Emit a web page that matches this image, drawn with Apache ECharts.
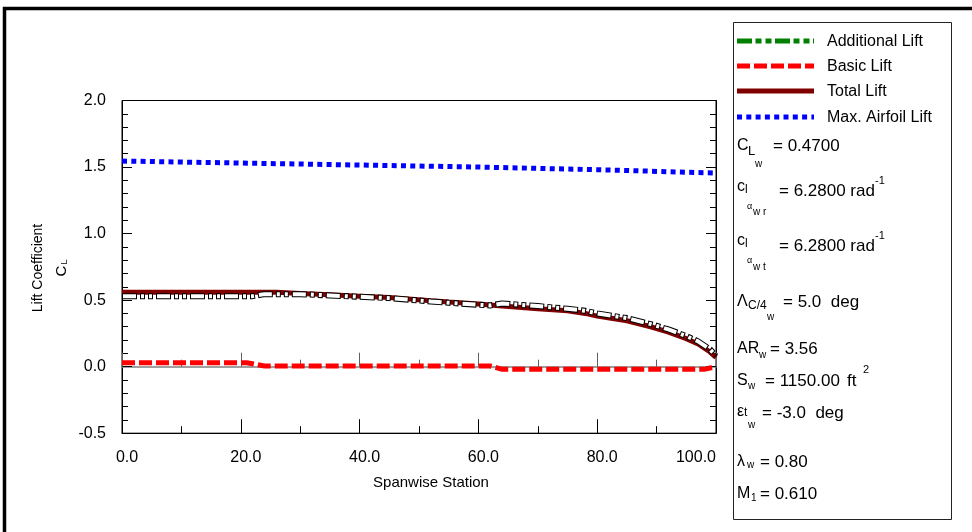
<!DOCTYPE html>
<html><head><meta charset="utf-8">
<script src="https://cdn.jsdelivr.net/npm/echarts@6/dist/echarts.min.js"></script>
<style>html,body{margin:0;padding:0;background:#fff;}#c{width:972px;height:532px;}</style>
</head><body><div id="c"></div>
<script>
// ---- data ----
var xTicks = [0, 20, 40, 60, 80, 100];
var yTicks = [-0.5, 0.0, 0.5, 1.0, 1.5, 2.0];
var spanMax = [0, 20, 40, 60, 80, 100];
var maxLift = [1.545, 1.53, 1.515, 1.50, 1.48, 1.455];
var spanTotal = [0, 10, 20, 26, 30, 35, 40, 45, 52, 55, 60, 64, 70, 75, 78, 80, 85, 89, 92, 95, 97, 98, 99, 100];
var totalLift = [0.56, 0.56, 0.56, 0.56, 0.55, 0.54, 0.53, 0.52, 0.495, 0.485, 0.47, 0.455, 0.435, 0.42, 0.40, 0.38, 0.345, 0.30, 0.26, 0.21, 0.17, 0.14, 0.11, 0.07];
var spanAdd = [0, 10, 20, 22, 24, 30, 35, 40, 45, 52, 55, 60, 62, 64, 70, 75, 78, 80, 85, 89, 92, 95, 97, 98, 99, 100];
var addLift = [0.53, 0.53, 0.53, 0.53, 0.545, 0.545, 0.535, 0.525, 0.515, 0.49, 0.48, 0.465, 0.46, 0.475, 0.455, 0.435, 0.42, 0.40, 0.365, 0.32, 0.28, 0.23, 0.19, 0.16, 0.13, 0.08];
var spanBasic = [0, 21, 24, 62, 64, 98, 100];
var basicLift = [0.03, 0.03, 0.005, 0.005, -0.02, -0.02, 0.0];
var legendNames = ['Additional Lift', 'Basic Lift', 'Total Lift', 'Max. Airfoil Lift'];

function pairs(xs, ys) { return xs.map(function (x, i) { return [x, ys[i]]; }); }

var FONT = '"Liberation Sans", Arial, sans-serif';
var chart = echarts.init(document.getElementById('c'));

var G = [];
function txt(x, y, s, size, align) {
  G.push({ type: 'text', x: x, y: y, silent: true, z: 100,
    style: { text: s, font: size + 'px ' + FONT, fill: '#000', textAlign: align || 'left', textVerticalAlign: 'middle' } });
}
function rtxt(x, y, s, size) {
  G.push({ type: 'text', x: x, y: y, silent: true, z: 100, rotation: Math.PI / 2,
    style: { text: s, font: size + 'px ' + FONT, fill: '#000', textAlign: 'center', textVerticalAlign: 'middle' } });
}
// outer frame
G.push({ type: 'polyline', silent: true, shape: { points: [[4.5, 540], [4.5, 8.5], [980, 8.5]] }, style: { stroke: '#000', lineWidth: 3.5, fill: null } });
// legend box
G.push({ type: 'rect', silent: true, shape: { x: 733.5, y: 22.5, width: 218, height: 497 }, style: { stroke: '#222', lineWidth: 1, fill: '#fff' }, z: 50 });
// legend samples
var legY = [41, 66, 91, 117];
var legStyles = [
  { stroke: '#008000', lineWidth: 5, lineDash: [15, 3.5, 6, 4, 6, 3.5] },
  { stroke: '#ff0000', lineWidth: 5, lineDash: [13, 4] },
  { stroke: '#800000', lineWidth: 5 },
  { stroke: '#0000ff', lineWidth: 5, lineDash: [5, 4.3] }
];
for (var i = 0; i < 4; i++) {
  G.push({ type: 'line', silent: true, z: 60, shape: { x1: 737, y1: legY[i], x2: 814, y2: legY[i] }, style: legStyles[i] });
  txt(827, legY[i] + 0.5, legendNames[i], 16);
}
// parameter annotations
txt(737, 146, 'C', 16); txt(748, 151, 'L', 13); txt(755, 164, 'w', 10); txt(773, 146, '= 0.4700', 17);
txt(737, 187, 'c', 16); txt(745, 190, 'l', 12); txt(747, 207, 'α', 9); txt(753, 212, 'w r', 10);
txt(779, 191, '= 6.2800 rad', 17); txt(875, 181, '-1', 11);
txt(737, 241, 'c', 16); txt(745, 244, 'l', 12); txt(747, 261, 'α', 9); txt(753, 267, 'w t', 10);
txt(779, 246, '= 6.2800 rad', 17); txt(875, 236, '-1', 11);
txt(737, 302, 'Λ', 16); txt(748, 306, 'C/4', 12); txt(767, 317, 'w', 10); txt(783, 302, '= 5.0  deg', 17);
txt(737, 349, 'AR', 16); txt(759, 355, 'w', 10); txt(770, 349, '= 3.56', 17);
txt(737, 381, 'S', 16); txt(748, 386, 'w', 10); txt(765, 381, '= 1150.00', 17); txt(847, 381, 'ft', 17); txt(863, 370, '2', 11);
txt(737, 412, 'ε', 16); txt(744, 413, 't', 12); txt(748, 425, 'w', 10); txt(762, 413, '= -3.0  deg', 17);
txt(737, 462, 'λ', 16); txt(747, 465, 'w', 10); txt(760, 462, '= 0.80', 17);
txt(737, 494, 'M', 16); txt(751, 498, '1', 10); txt(760, 494, '= 0.610', 17);
// axis titles
txt(431, 483, 'Spanwise Station', 15, 'center');
rtxt(38, 268, 'Lift Coefficient', 14);
rtxt(62, 271, 'C', 15);
rtxt(65, 262, 'L', 9);

var axisLbl = { fontFamily: FONT, fontSize: 16, color: '#000' };

var option = {
  animation: false,
  backgroundColor: '#fff',
  grid: { left: 122, right: 256, top: 100.5, bottom: 98.8, show: true, borderColor: '#000', borderWidth: 1, backgroundColor: 'transparent' },
  xAxis: [
    { type: 'value', min: 0, max: 100, interval: 20, position: 'bottom',
      axisLine: { onZero: false, lineStyle: { color: '#000', width: 1 } },
      axisTick: { inside: true, length: 14, lineStyle: { color: '#000' } },
      minorTick: { show: true, splitNumber: 2, length: 7, lineStyle: { color: '#000' } },
      splitLine: { show: false },
      axisLabel: Object.assign({ margin: 16, padding: [0, 0, 0, 10], alignMaxLabel: 'right', formatter: function (v) { return v.toFixed(1); } }, axisLbl) },
    { type: 'value', min: 0, max: 100, interval: 20, position: 'bottom',
      axisLine: { onZero: true, lineStyle: { color: '#808080', width: 1.5 } },
      axisTick: { inside: true, length: 14, lineStyle: { color: '#606060' } },
      minorTick: { show: true, splitNumber: 2, length: 7, lineStyle: { color: '#606060' } },
      splitLine: { show: false }, axisLabel: { show: false } }
  ],
  yAxis: [
    { type: 'value', min: -0.5, max: 2.0, interval: 0.5, position: 'left',
      axisLine: { show: true, onZero: false, lineStyle: { color: '#000', width: 1 } },
      axisTick: { inside: true, length: 10, lineStyle: { color: '#000' } },
      minorTick: { show: true, splitNumber: 5, length: 6, lineStyle: { color: '#000' } },
      splitLine: { show: false },
      axisLabel: Object.assign({ margin: 16, formatter: function (v) { return v.toFixed(1); } }, axisLbl) },
    { type: 'value', min: -0.5, max: 2.0, interval: 0.5, position: 'right',
      axisLine: { show: true, onZero: false, lineStyle: { color: '#000', width: 1 } },
      axisTick: { inside: true, length: 10, lineStyle: { color: '#000' } },
      minorTick: { show: true, splitNumber: 5, length: 6, lineStyle: { color: '#000' } },
      splitLine: { show: false }, axisLabel: { show: false } }
  ],
  series: [
    { name: 'Max. Airfoil Lift', type: 'line', data: pairs(spanMax, maxLift), showSymbol: false, z: 3,
      lineStyle: { color: '#0000ff', width: 5, type: [5, 4.3] } },
    { name: 'Basic Lift', type: 'line', data: pairs(spanBasic, basicLift), showSymbol: false, z: 3,
      lineStyle: { color: '#ff0000', width: 5, type: [13, 4] } },
    { name: 'Total Lift', type: 'line', data: pairs(spanTotal, totalLift), showSymbol: false, z: 3,
      lineStyle: { color: '#800000', width: 5 } },
    { name: 'Additional Lift', type: 'line', data: pairs(spanAdd, addLift), showSymbol: false, z: 4,
      lineStyle: { color: '#000', width: 6, type: [15, 3, 5, 3, 5, 3] } },
    { name: 'Additional Lift ', type: 'line', data: pairs(spanAdd, addLift), showSymbol: false, z: 5,
      lineStyle: { color: '#fff', width: 4, type: [13, 5, 3, 5, 3, 5], dashOffset: 33 } }
  ],
  graphic: G
};
chart.setOption(option);
</script>
</body></html>
